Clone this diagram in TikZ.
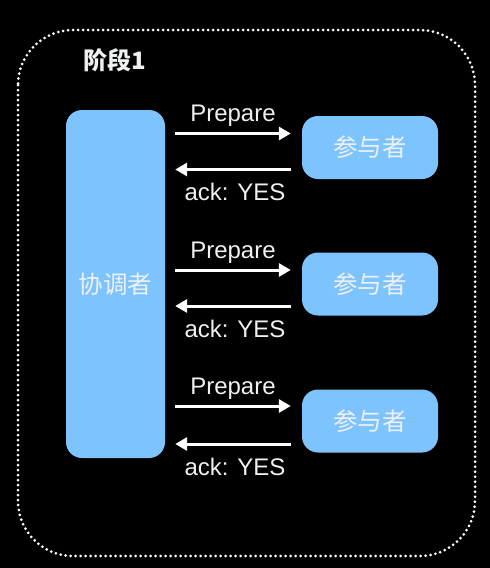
\documentclass[tikz,border=0pt]{standalone}
\usepackage{fontspec}
\setmainfont{Liberation Sans}
\newfontfamily\cjk{Noto Sans CJK SC}
\definecolor{boxblue}{RGB}{125,196,255}
\definecolor{textwhite}{RGB}{238,240,242}
\tikzset{
  box/.style={fill=boxblue, rounded corners=16pt, text=textwhite, font=\cjk\fontsize{24.5}{28}\selectfont},
  msg/.style={draw=white, line width=3pt, -{Triangle[length=12pt,width=13pt]}},
  lbl/.style={text=textwhite, font=\fontsize{24}{28}\selectfont}
}
\usetikzlibrary{arrows.meta}
\begin{document}
\begin{tikzpicture}[x=1pt,y=-1pt]

\useasboundingbox (0,0) rectangle (490,568);
\fill [black] (0,0) rectangle (490,568);

\coordinate (coord-c) at (115.5,284);
\coordinate (p1-c) at (370,147.5);
\coordinate (p2-c) at (370,284);
\coordinate (p3-c) at (370,421);

% frame of the phase
\draw [white, line width=3pt, dash pattern=on 0pt off 5pt, line cap=round, rounded corners=55pt]
  (18,30) rectangle (475,556);
\node [text=textwhite, font=\cjk\bfseries\fontsize{24}{28}\selectfont] (title) at (115,60) {阶段1};

\node [box, minimum width=99pt, minimum height=348pt] (coord) at (coord-c) {协调者};

\node [box, minimum width=136pt, minimum height=63pt] (p1) at (p1-c) {参与者};
\node [box, minimum width=136pt, minimum height=63pt] (p2) at (p2-c) {参与者};
\node [box, minimum width=136pt, minimum height=63pt] (p3) at (p3-c) {参与者};

\draw [msg] ([xshift=10,yshift=14]coord.east |- p1) -- ([xshift=-11,yshift=14]p1.west)
  node [lbl, midway, above=2pt] (prep1) {Prepare};
\draw [msg] ([xshift=-11,yshift=-22]p1.west) -- ([xshift=10,yshift=-22]coord.east |- p1)
  node [lbl, midway, below=9pt, xshift=2pt] (ack1) {ack: YES};

\draw [msg] ([xshift=10,yshift=14]coord.east |- p2) -- ([xshift=-11,yshift=14]p2.west)
  node [lbl, midway, above=2pt] (prep2) {Prepare};
\draw [msg] ([xshift=-11,yshift=-22]p2.west) -- ([xshift=10,yshift=-22]coord.east |- p2)
  node [lbl, midway, below=9pt, xshift=2pt] (ack2) {ack: YES};

\draw [msg] ([xshift=10,yshift=15]coord.east |- p3) -- ([xshift=-11,yshift=15]p3.west)
  node [lbl, midway, above=2pt] (prep3) {Prepare};
\draw [msg] ([xshift=-11,yshift=-23]p3.west) -- ([xshift=10,yshift=-23]coord.east |- p3)
  node [lbl, midway, below=9pt, xshift=2pt] (ack3) {ack: YES};

\end{tikzpicture}
\end{document}
